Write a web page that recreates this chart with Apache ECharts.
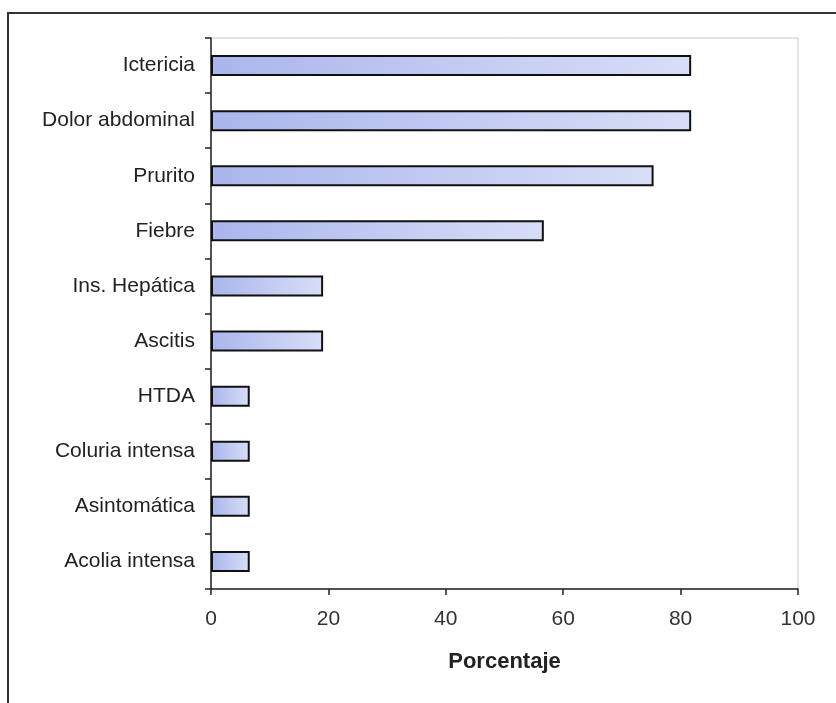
<!DOCTYPE html>
<html>
<head>
<meta charset="utf-8">
<script src="https://cdn.jsdelivr.net/npm/echarts@6/dist/echarts.min.js"></script>
<style>
html,body{margin:0;padding:0;background:#fff;}
#chart{width:836px;height:703px;}
</style>
</head>
<body>
<div id="chart"></div>
<script>
const categories = ["Ictericia","Dolor abdominal","Prurito","Fiebre","Ins. Hepática","Ascitis","HTDA","Coluria intensa","Asintomática","Acolia intensa"];
const porcentaje = [81.8, 81.8, 75.4, 56.7, 19.1, 19.1, 6.6, 6.6, 6.6, 6.6];
const xTicks = [0, 20, 40, 60, 80, 100];
const axisName = "Porcentaje";

const chart = echarts.init(document.getElementById('chart'));
chart.setOption({
  backgroundColor: '#fff',
  animation: false,
  graphic: [{
    type: 'rect',
    shape: {x: 8, y: 13, width: 900, height: 800},
    style: {fill: 'none', stroke: '#333', lineWidth: 2}
  }],
  grid: {left: 211, top: 38, right: 38, bottom: 114, show: true, borderColor: '#c8c8c8', borderWidth: 1},
  xAxis: {
    type: 'value', min: xTicks[0], max: xTicks[xTicks.length-1], interval: 20,
    name: axisName, nameLocation: 'middle', nameGap: 62,
    nameTextStyle: {fontFamily: 'Liberation Sans', fontSize: 22, fontWeight: 'bold', color: '#222'},
    axisLine: {show: true, lineStyle: {color: '#222', width: 1.5}},
    axisTick: {show: true, length: 6, lineStyle: {color: '#222', width: 1.5}},
    axisLabel: {fontFamily: 'Liberation Sans', fontSize: 21, color: '#333', margin: 20},
    splitLine: {show: false}
  },
  yAxis: {
    type: 'category', data: categories, inverse: true,
    axisLine: {show: true, lineStyle: {color: '#222', width: 1.5}},
    axisTick: {show: true, length: 6, lineStyle: {color: '#222', width: 1.5}},
    axisLabel: {fontFamily: 'Liberation Sans', fontSize: 21, color: '#222', margin: 16, padding: [4, 0, 0, 0]},
    splitLine: {show: false}
  },
  series: [{
    type: 'bar', data: porcentaje, barWidth: 21,
    itemStyle: {
      color: new echarts.graphic.LinearGradient(0, 0, 1, 0, [
        {offset: 0, color: '#aab6ec'},
        {offset: 1, color: '#d8def7'}
      ]),
      borderColor: '#111', borderWidth: 2
    }
  }]
});
</script>
</body>
</html>
